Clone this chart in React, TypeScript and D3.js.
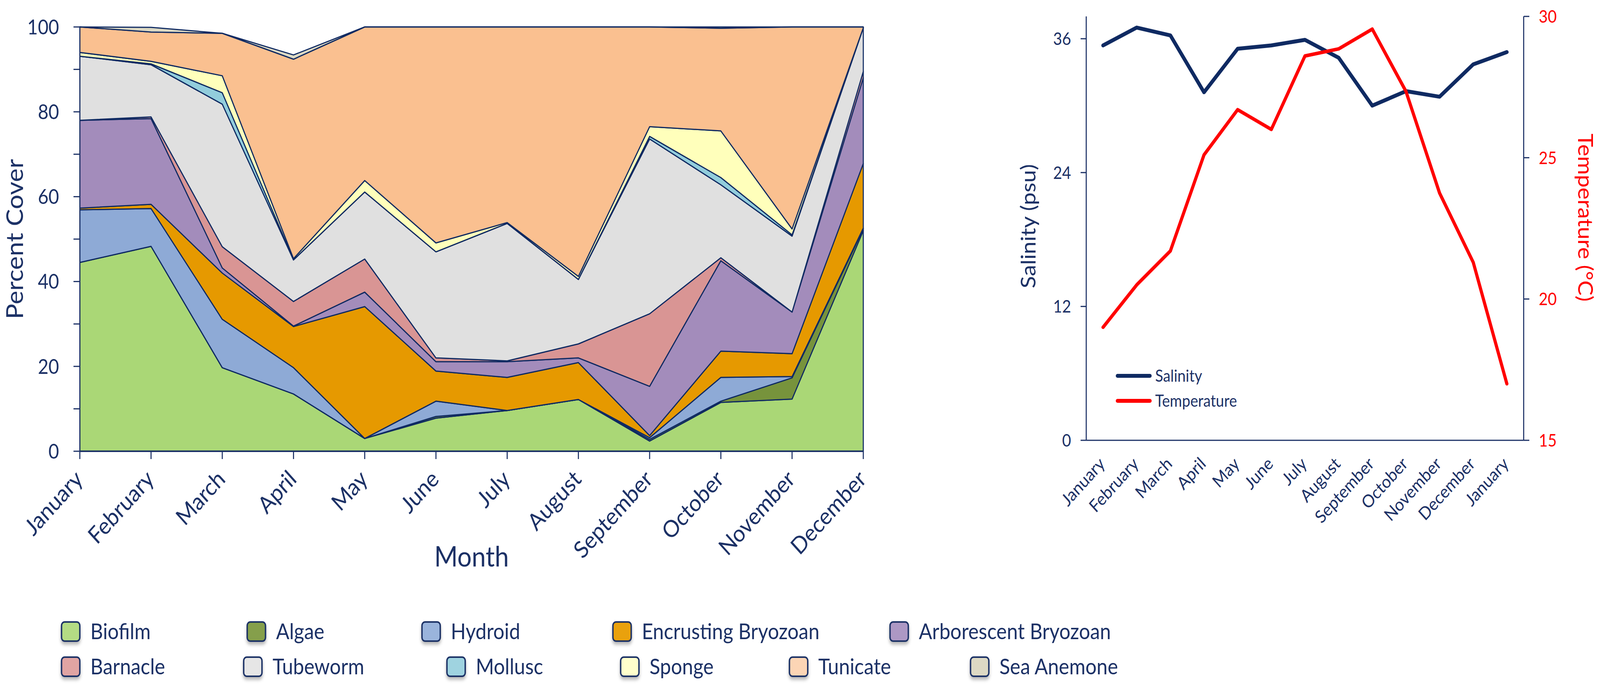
import React, { useEffect } from "react";
import * as d3 from "d3";

// ---------- DATA ----------
const months = ["January","February","March","April","May","June","July","August","September","October","November","December"];
const species = ["Biofilm","Algae","Hydroid","Encrusting Bryozoan","Arborescent Bryozoan","Barnacle","Tubeworm","Mollusc","Sponge","Tunicate","Sea Anemone"];

const biofilm     = [44.5, 48.3, 19.7, 13.5, 3.0, 7.8, 9.6, 12.2, 2.4, 11.5, 12.3, 52.0];
const algae       = [0, 0, 0, 0, 0, 0.4, 0, 0, 0.4, 0.3, 5.0, 0.4];
const hydroid     = [12.4, 8.9, 11.4, 6.2, 0, 3.6, 0, 0, 0.4, 5.6, 0.3, 0.2];
const encrusting  = [0.4, 1.0, 10.9, 9.7, 31.1, 7.1, 7.8, 8.7, 0.5, 6.2, 5.4, 15.2];
const arborescent = [20.7, 20.2, 1.2, 0.1, 3.4, 2.2, 3.7, 1.1, 11.6, 21.3, 9.8, 20.2];
const barnacle    = [0, 0.4, 5.0, 5.8, 7.8, 0.9, 0.2, 3.3, 17.1, 0.7, 0, 1.5];
const tubeworm    = [15.1, 12.3, 33.6, 9.8, 15.8, 25.0, 32.4, 15.2, 41.2, 17.2, 17.9, 10.3];
const mollusc     = [0, 0.2, 2.7, 0, 0, 0, 0, 0, 0.6, 1.7, 0.3, 0];
const sponge      = [0.9, 0.6, 4.0, 0.3, 2.7, 2.1, 0.2, 0.7, 2.3, 11.0, 1.4, 0];
const tunicate    = [6.0, 6.9, 10.0, 47.0, 36.2, 50.9, 46.1, 58.8, 23.5, 24.2, 47.6, 0.2];
const seaAnemone  = [0, 1.1, 0, 1.0, 0, 0, 0, 0, 0, 0.3, 0, 0];

const coverTicks = [0, 10, 20, 30, 40, 50, 60, 70, 80, 90, 100];

const lineMonths = ["January","February","March","April","May","June","July","August","September","October","November","December","January"];
const salinity    = [35.4, 37.0, 36.3, 31.2, 35.1, 35.4, 35.9, 34.3, 30.0, 31.3, 30.8, 33.7, 34.8];
const temperature = [19.0, 20.5, 21.7, 25.1, 26.7, 26.0, 28.6, 28.85, 29.55, 27.35, 23.75, 21.3, 17.0];
const salinityTicks = [0, 12, 24, 36];
const tempTicks = [15, 20, 25, 30];

// ---------- STYLE ----------
const FONT = "Lato, 'Open Sans', sans-serif";
const NAVY = "#1c3166";
const LINE_NAVY = "#0f2a62";
const RED = "#ff0000";
const fills = ["#aad776", "#77933c", "#8eaad6", "#e69900", "#a38cbb", "#d99594", "#e0e0e0", "#92cddc", "#ffffbb", "#fac090", "#dcd9c4"];
const swatchFills = ["#b4dc84", "#859f4c", "#9ab4dc", "#e9a10e", "#ad98c4", "#e0a4a3", "#e6e6e6", "#9fd3e0", "#ffffcc", "#fcd5b5", "#ddd9c4"];

const legendItems = [
  { i: 0, sx: 175, row: 0 }, { i: 1, sx: 703, row: 0 }, { i: 2, sx: 1200, row: 0 },
  { i: 3, sx: 1743, row: 0 }, { i: 4, sx: 2531, row: 0 },
  { i: 5, sx: 175, row: 1 }, { i: 6, sx: 693, row: 1 }, { i: 7, sx: 1271, row: 1 },
  { i: 8, sx: 1765, row: 1 }, { i: 9, sx: 2245, row: 1 }, { i: 10, sx: 2760, row: 1 },
];
const legendRowY = [1616, 1706];

export default function App() {
  useEffect(() => {
    document.body.style.margin = "0";
    document.body.style.overflow = "hidden";
  }, []);

  // design space = reference pixel grid; stretched to fill the viewport
  const W = 4550, H = 1761;

  // ----- area chart -----
  const series = [biofilm, algae, hydroid, encrusting, arborescent, barnacle, tubeworm, mollusc, sponge, tunicate, seaAnemone];
  const table = months.map((m, j) => {
    const row: any = { month: m };
    species.forEach((s, k) => { row[s] = series[k][j]; });
    return row;
  });
  const stacked = d3.stack<any>().keys(species)(table);
  const x = d3.scalePoint<string>().domain(months).range([227, 2455]);
  const y = d3.scaleLinear().domain([0, 100]).range([1155, 69]);
  const area = d3.area<any>()
    .x((d) => x(d.data.month) as number)
    .y0((d) => y(d[0]))
    .y1((d) => y(d[1]));

  // ----- line chart -----
  const idx = lineMonths.map((_, i) => i);
  const xl = d3.scaleBand<number>().domain(idx).range([3089, 4333]);
  const cx = (i: number) => (xl(i) as number) + xl.bandwidth() / 2;
  const yl = d3.scaleLinear().domain([0, 38]).range([1127, 42]);
  const yr = d3.scaleLinear().domain([15, 30]).range([1127, 42]);
  const salLine = d3.line<number>().x((_, i) => cx(i)).y((d) => yl(d));
  const tempLine = d3.line<number>().x((_, i) => cx(i)).y((d) => yr(d));

  return (
    <svg viewBox={`0 0 ${W} ${H}`} preserveAspectRatio="none"
      style={{ display: "block", width: "100vw", height: "100vh", background: "#fff", position: "fixed", left: 0, top: 0 }}
      fontFamily={FONT}>
      <defs>
        <filter id="sh" x="-30%" y="-30%" width="160%" height="170%">
          <feDropShadow dx="0" dy="7" stdDeviation="4" floodColor="#000" floodOpacity="0.28" />
        </filter>
      </defs>

      {/* ===== AREA CHART ===== */}
      <g>
        {stacked.map((s, k) => (
          <path key={species[k]} d={area(s) as string} fill={fills[k]} stroke={LINE_NAVY} strokeWidth={3} strokeLinejoin="round" />
        ))}
        <line x1={227} x2={227} y1={y(100)} y2={y(0)} stroke={NAVY} strokeWidth={3} />
        <line x1={227} x2={2455} y1={y(0)} y2={y(0)} stroke={NAVY} strokeWidth={4} />
        {coverTicks.map((t) => (
          <g key={t}>
            <line x1={209} x2={227} y1={y(t)} y2={y(t)} stroke={NAVY} strokeWidth={3} />
            {t % 20 === 0 && (
              <text x={168} y={y(t)} dy="0.36em" textAnchor="end" fontSize={52} fill={NAVY}>{t}</text>
            )}
          </g>
        ))}
        {months.map((m) => (
          <g key={m}>
            <line x1={x(m)} x2={x(m)} y1={y(0)} y2={y(0) + 20} stroke={NAVY} strokeWidth={3} />
            <text transform={`translate(${(x(m) as number) + 12},${1230}) rotate(-45)`} textAnchor="end" fontSize={60} fill={NAVY}>{m}</text>
          </g>
        ))}
        <text transform={`translate(66,${(y(0) + y(100)) / 2}) rotate(-90)`} textAnchor="middle" fontSize={66} fill={NAVY}>Percent Cover</text>
        <text x={1341} y={1450} textAnchor="middle" fontSize={72} fill={NAVY}>Month</text>
      </g>

      {/* ===== LEGEND ===== */}
      <g>
        {legendItems.map((it) => {
          const cy = legendRowY[it.row];
          return (
            <g key={species[it.i]}>
              <rect x={it.sx} y={cy - 24} width={52} height={49} rx={9} ry={9} fill={swatchFills[it.i]} stroke={NAVY} strokeWidth={4} filter="url(#sh)" />
              <text x={it.sx + 82} y={cy} dy="0.36em" fontSize={56} fill={NAVY}>{species[it.i]}</text>
            </g>
          );
        })}
      </g>

      {/* ===== LINE CHART ===== */}
      <g>
        <line x1={3089} x2={3089} y1={42} y2={1127} stroke={NAVY} strokeWidth={3} />
        <line x1={4333} x2={4333} y1={42} y2={1127} stroke={NAVY} strokeWidth={3} />
        <line x1={3089} x2={4333} y1={1127} y2={1127} stroke={NAVY} strokeWidth={3} />
        {salinityTicks.map((t) => (
          <g key={"s" + t}>
            <line x1={3073} x2={3089} y1={yl(t)} y2={yl(t)} stroke={NAVY} strokeWidth={3} />
            <text x={3046} y={yl(t)} dy="0.36em" textAnchor="end" fontSize={44} fill={NAVY}>{t}</text>
          </g>
        ))}
        {tempTicks.map((t) => (
          <g key={"t" + t}>
            <line x1={4333} x2={4349} y1={yr(t)} y2={yr(t)} stroke={NAVY} strokeWidth={3} />
            <text x={4376} y={yr(t)} dy="0.36em" textAnchor="start" fontSize={44} fill={RED}>{t}</text>
          </g>
        ))}
        {lineMonths.map((m, i) => (
          <text key={"lm" + i} transform={`translate(${cx(i) + 8},${1190}) rotate(-45)`} textAnchor="end" fontSize={45} fill={NAVY}>{m}</text>
        ))}
        <path d={salLine(salinity) as string} fill="none" stroke={LINE_NAVY} strokeWidth={10} strokeLinejoin="round" strokeLinecap="round" />
        <path d={tempLine(temperature) as string} fill="none" stroke={RED} strokeWidth={9} strokeLinejoin="round" strokeLinecap="round" />

        <line x1={3178} x2={3270} y1={962} y2={962} stroke={LINE_NAVY} strokeWidth={10} strokeLinecap="round" />
        <text x={3285} y={962} dy="0.36em" fontSize={42} fill={NAVY}>Salinity</text>
        <line x1={3178} x2={3270} y1={1026} y2={1026} stroke={RED} strokeWidth={10} strokeLinecap="round" />
        <text x={3285} y={1026} dy="0.36em" fontSize={42} fill={NAVY}>Temperature</text>

        <text transform={`translate(2945,579) rotate(-90)`} textAnchor="middle" fontSize={58} fill={NAVY}>Salinity (psu)</text>
        <text transform={`translate(4488,557) rotate(90)`} textAnchor="middle" fontSize={58} fill={RED}>Temperature (°C)</text>
      </g>
    </svg>
  );
}
